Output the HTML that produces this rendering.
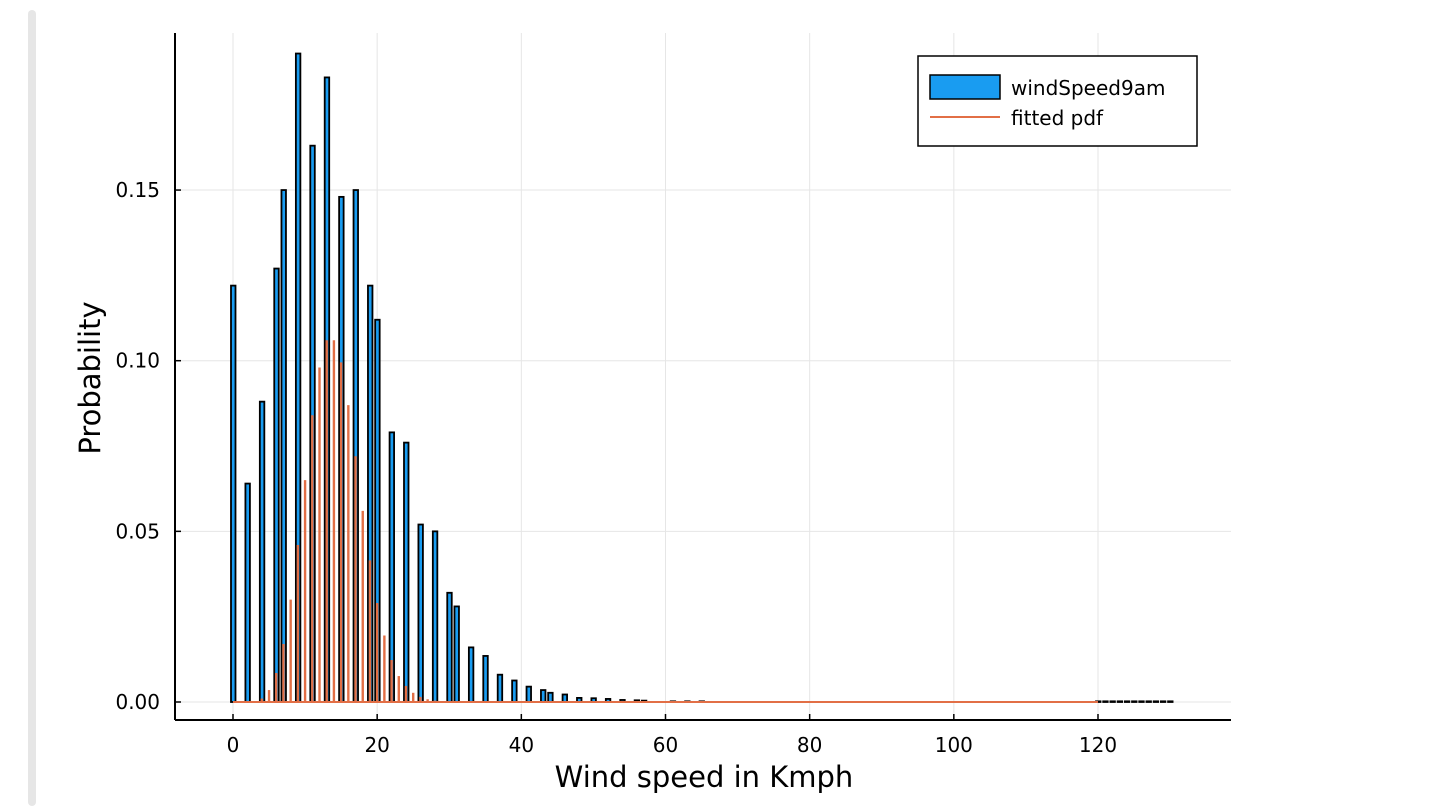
<!DOCTYPE html>
<html><head><meta charset="utf-8"><style>
html,body{margin:0;padding:0;background:#fff;}
svg{display:block;font-family:"DejaVu Sans","Liberation Sans",sans-serif;}
</style></head><body>
<svg id="chart" width="1456" height="806" viewBox="0 0 1456 806" xmlns="http://www.w3.org/2000/svg">
<rect x="28" y="10" width="8" height="796" rx="4" fill="#e6e6e6"/>
<g id="grid"></g>
<g id="bars"></g>
<g id="pdf"></g>
<g id="axes"></g>
<text x="704" y="787" font-size="29" text-anchor="middle" fill="#000">Wind speed in Kmph</text>
<text transform="translate(100,378) rotate(-90)" font-size="29" text-anchor="middle" fill="#000">Probability</text>
<g>
<rect x="918" y="56" width="279" height="90" fill="#fff" stroke="#000" stroke-width="1.5"/>
<rect x="930" y="75" width="70" height="24" fill="#199cf1" stroke="#000" stroke-width="1.5"/>
<text x="1011" y="95" font-size="20">windSpeed9am</text>
<line x1="930" y1="117" x2="1000" y2="117" stroke="#e26f46" stroke-width="2"/>
<text x="1011" y="125" font-size="20">fitted pdf</text>
</g>
</svg>
<script>
const binX = [0,2,4,6,7,9,11,13,15,17,19,20,22,24,26,28,30,31,33,35,37,39,41,43,44,46,48,50,52,54,56,57,61,63,65,120,121,122,123,124,125,126,127,128,129,130];
const binP = [0.122,0.064,0.088,0.127,0.150,0.190,0.163,0.183,0.148,0.150,0.122,0.112,0.079,0.076,0.052,0.050,0.032,0.028,0.016,0.0135,0.008,0.0063,0.0045,0.0035,0.0027,0.0022,0.0012,0.0011,0.0009,0.0006,0.0005,0.0004,0.0002,0.0002,0.0002,0.0002,0.0002,0.0002,0.0002,0.0002,0.0002,0.0002,0.0002,0.0002,0.0002,0.0002];
const pdfX = [4,5,6,7,8,9,10,11,12,13,14,15,16,17,18,19,20,21,22,23,24,25,26,27,28,29];
const pdfP = [0.001,0.0035,0.0085,0.017,0.030,0.046,0.065,0.084,0.098,0.106,0.106,0.0995,0.087,0.072,0.056,0.0415,0.029,0.0195,0.0123,0.0076,0.0047,0.0027,0.0015,0.0008,0.0004,0.0002];
const xTicks = [0,20,40,60,80,100,120];
const yTicks = [0,0.05,0.10,0.15];
const yTickLabels = ["0.00","0.05","0.10","0.15"];

const L=175,R=1231,T=33,B=720;
const sx = v => 233 + v*7.2083;
const sy = v => 702 - v*3413;
const NS="http://www.w3.org/2000/svg";
function mk(tag, parent, attrs){const e=document.createElementNS(NS,tag);for(const k in attrs)e.setAttribute(k,attrs[k]);parent.appendChild(e);return e;}
const grid=document.getElementById('grid'),bars=document.getElementById('bars'),pdf=document.getElementById('pdf'),axes=document.getElementById('axes');

xTicks.forEach(t=>{
  const g=mk('line',grid,{x1:sx(t),x2:sx(t),y1:T,y2:B,stroke:'#e6e6e6','stroke-width':1});
  
  
  const tk=mk('line',axes,{x1:sx(t),x2:sx(t),y1:B,y2:B-6,stroke:'#000','stroke-width':1.5});
  
  
  const lb=mk('text',axes,{x:sx(t),y:B+32,'font-size':20,'text-anchor':'middle'});
  lb.textContent=String(t);
  
  
});
yTicks.forEach((t,i)=>{
  const g=mk('line',grid,{x1:L,x2:R,y1:sy(t),y2:sy(t),stroke:'#e6e6e6','stroke-width':1});
  
  
  const tk=mk('line',axes,{x1:L,x2:L+6,y1:sy(t),y2:sy(t),stroke:'#000','stroke-width':1.5});
  
  
  const lb=mk('text',axes,{x:L-15,y:sy(t)+7,'font-size':20,'text-anchor':'end'});
  lb.textContent=yTickLabels[i];
  
  
});
binX.forEach((x,i)=>{
  const x0=sx(x)-2, y0=sy(binP[i]);
  const b=mk('rect',bars,{x:x0,y:y0,width:4.5,height:Math.max(702-y0,0.5),fill:'#199cf1',stroke:'#000','stroke-width':1.8});
  
  
});
const base=mk('line',pdf,{x1:sx(0),x2:sx(120),y1:702,y2:702,stroke:'#e26f46','stroke-width':2});


pdfX.forEach((x,i)=>{
  const s=mk('line',pdf,{x1:sx(x),x2:sx(x),y1:702,y2:sy(pdfP[i]),stroke:'#e26f46','stroke-width':2.4});
  
  
});
const ax=mk('line',axes,{x1:L,x2:R,y1:B,y2:B,stroke:'#000','stroke-width':2});


const ay=mk('line',axes,{x1:L,x2:L,y1:T,y2:B,stroke:'#000','stroke-width':2});


</script>
</body></html>
